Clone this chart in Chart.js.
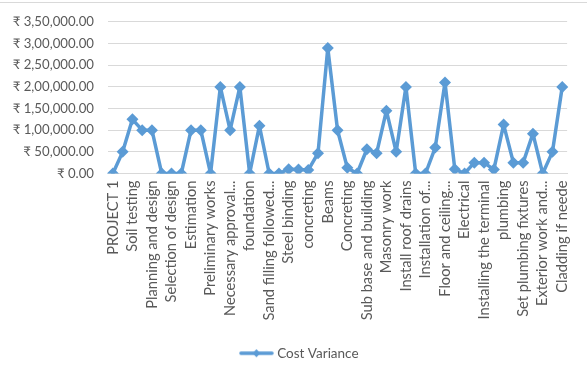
<!DOCTYPE html>
<html>
<head>
<meta charset="utf-8">
<script src="https://cdn.jsdelivr.net/npm/chart.js@4.4.1/dist/chart.umd.min.js"></script>
<style>
  html, body { margin: 0; padding: 0; background: #fff; }
  #wrap { position: relative; width: 587px; height: 376px; }
  #rule { position: absolute; left: 0; top: 2px; width: 587px; height: 1px; background: #d9d9d9; }
  canvas { position: absolute; left: 0; top: 0; }
</style>
</head>
<body>
<div id="wrap">
  <div id="rule"></div>
  <canvas id="chart" width="587" height="376"></canvas>
</div>
<script>
// Task names along the category axis (only every other task name is printed).
const categories = [
  'PROJECT 1', '', 'Soil testing', '', 'Planning and design', '',
  'Selection of design', '', 'Estimation', '', 'Preliminary works', '',
  'Necessary approval...', '', 'foundation', '', 'Sand filling followed...', '',
  'Steel binding', '', 'concreting', '', 'Beams', '',
  'Concreting', '', 'Sub base and building', '', 'Masonry work', '',
  'Install roof drains', '', 'Installation of...', '', 'Floor and ceiling...', '',
  'Electrical', '', 'Installing the terminal', '', 'plumbing', '',
  'Set plumbing fixtures', '', 'Exterior work and...', '', 'Cladding if neede'
];

// Cost variance per task, in rupees.
const costVariance = [
  0, 50000, 125000, 100000, 100000, 0, 0, 0, 100000, 100000,
  0, 200000, 100000, 200000, 0, 110000, 0, 0, 10000, 9000,
  8000, 47000, 290000, 100000, 13000, 0, 56000, 47000, 145000, 50000,
  200000, 0, 0, 60000, 210000, 10000, 0, 25000, 25000, 9000,
  113000, 25000, 25000, 92000, 0, 50000, 200000
];

const seriesName = 'Cost Variance';
const yTickValues = [0, 50000, 100000, 150000, 200000, 250000, 300000, 350000];

const LINE_BLUE = '#5b9bd5';
const TEXT_GREY = '#595959';
const GRID_GREY = '#d9d9d9';
const FONT = "Lato, 'Noto Sans', sans-serif";

// Indian digit grouping: 3,50,000.00
function rupees(v) {
  const [intPart, frac] = Math.abs(v).toFixed(2).split('.');
  let grouped = intPart;
  if (intPart.length > 3) {
    const last3 = intPart.slice(-3);
    let rest = intPart.slice(0, -3);
    const parts = [];
    while (rest.length > 2) { parts.unshift(rest.slice(-2)); rest = rest.slice(0, -2); }
    if (rest.length) parts.unshift(rest);
    grouped = parts.join(',') + ',' + last3;
  }
  return '\u20B9 ' + grouped + '.' + frac;
}

// Legend glyph: a short line with a diamond in the middle.
function legendGlyph() {
  const c = document.createElement('canvas');
  c.width = 35; c.height = 10;
  const g = c.getContext('2d');
  g.strokeStyle = LINE_BLUE; g.lineWidth = 3.5; g.lineCap = 'round';
  g.beginPath(); g.moveTo(2, 5); g.lineTo(33, 5); g.stroke();
  g.fillStyle = LINE_BLUE;
  g.beginPath(); g.moveTo(17.5, 1); g.lineTo(21.5, 5); g.lineTo(17.5, 9); g.lineTo(13.5, 5); g.closePath(); g.fill();
  return c;
}

const glyph = legendGlyph();

// Centre the legend under the plotting area rather than the whole canvas.
const legendShift = {
  id: 'legendShift',
  afterLayout(chart) {
    if (chart.legend) chart.legend.left += 26;
  }
};

new Chart(document.getElementById('chart'), {
  type: 'line',
  data: {
    labels: categories,
    datasets: [{
      label: seriesName,
      data: costVariance,
      borderColor: LINE_BLUE,
      backgroundColor: LINE_BLUE,
      borderWidth: 3.5,
      borderJoinStyle: 'round',
      borderCapStyle: 'round',
      tension: 0,
      pointStyle: 'rectRot',
      pointRadius: 6,
      pointHoverRadius: 6,
      pointBackgroundColor: LINE_BLUE,
      pointBorderColor: LINE_BLUE,
      pointBorderWidth: 0
    }]
  },
  plugins: [legendShift],
  options: {
    responsive: false,
    animation: false,
    devicePixelRatio: 1,
    layout: { padding: { left: 0, right: 12, top: 21, bottom: 6 } },
    plugins: {
      tooltip: { enabled: false },
      legend: {
        position: 'bottom',
        labels: {
          usePointStyle: true,
          pointStyleWidth: 28,
          color: TEXT_GREY,
          font: { family: FONT, size: 13.5 },
          generateLabels: (chart) => [{
            text: seriesName,
            pointStyle: glyph,
            fillStyle: LINE_BLUE,
            strokeStyle: LINE_BLUE,
            lineWidth: 0,
            fontColor: TEXT_GREY,
            hidden: false,
            datasetIndex: 0
          }]
        }
      }
    },
    scales: {
      x: {
        offset: true,
        grid: { display: false, drawTicks: false },
        border: { display: true, color: GRID_GREY, width: 1 },
        ticks: {
          autoSkip: false,
          minRotation: 90,
          maxRotation: 90,
          padding: 7,
          color: TEXT_GREY,
          font: { family: FONT, size: 14.7 }
        },
        afterFit: (s) => { s.height = 163; }
      },
      y: {
        min: 0,
        max: 350000,
        afterBuildTicks: (s) => { s.ticks = yTickValues.map(v => ({ value: v })); },
        grid: { color: GRID_GREY, lineWidth: 1, drawTicks: false },
        border: { display: false },
        ticks: {
          padding: 14,
          color: TEXT_GREY,
          font: { family: FONT, size: 13.2 },
          callback: (v) => rupees(v)
        },
        afterFit: (s) => { s.width = 108; }
      }
    }
  }
});
</script>
</body>
</html>
